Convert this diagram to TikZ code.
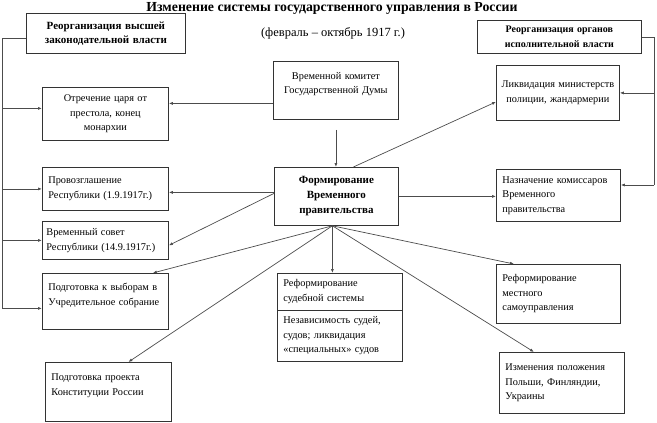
\documentclass[tikz,border=0pt]{standalone}
\usepackage{fontspec}
\setmainfont{Liberation Serif}
\usetikzlibrary{arrows.meta,shapes.multipart}

\begin{document}
\begin{tikzpicture}[x=1pt,y=-1pt,
    box/.style={draw=black!80,line width=0.8pt,anchor=north west,inner xsep=6pt,inner ysep=4pt,
      font=\fontsize{10.3}{14.5}\selectfont},
    conn/.style={draw=black!70,line width=0.7pt},
    arr/.style={conn,-{Latex[length=4pt,width=3pt]}}]
  \useasboundingbox (0,0) rectangle (657,423);

  % titles
  \node[anchor=base,font=\bfseries\fontsize{13.8}{16}\selectfont] (title) at (332,11)
    {Изменение системы государственного управления в России};
  \node[anchor=base,font=\fontsize{12.5}{14}\selectfont] (sub) at (333,36)
    {(февраль – октябрь 1917 г.)};

  % left column
  \node[box,text width=147pt,minimum height=40pt,align=center,
    font=\bfseries\fontsize{11}{14}\selectfont] (A) at (26,13) {Реорганизация высшей\\законодательной власти};
  \node[box,text width=114pt,minimum height=53pt,align=center] (B) at (42,87) {Отречение царя от\\престола, конец\\монархии};
  \node[box,text width=114pt,minimum height=43pt,align=left] (C) at (42,167) {Провозглашение\\Республики (1.9.1917г.)};
  \node[box,text width=118pt,inner xsep=4pt,minimum height=38pt,align=left] (D) at (42,221) {Временный совет\\Республики (14.9.1917г.)};
  \node[box,text width=114pt,minimum height=56pt,align=left] (E) at (42,273) {Подготовка к выборам в\\Учредительное собрание\\ \mbox{}};
  \node[box,text width=114pt,minimum height=59pt,align=left] (F) at (45,362) {Подготовка проекта\\Конституции России\\ \mbox{}};

  % middle column
  \node[box,text width=113pt,minimum height=58pt,align=center] (G) at (273,61) {Временной комитет\\Государственной Думы\\ \mbox{}};
  \node[box,text width=112pt,minimum height=58pt,align=center,
    font=\bfseries\fontsize{11}{15}\selectfont] (H) at (274,167) {Формирование\\Временного\\правительства};
  \node[box,rectangle split,rectangle split parts=2,text width=113pt,align=left,inner ysep=6pt] (M) at (277,273)
    {Реформирование\\судебной системы
     \nodepart{two}Независимость судей,\\судов; ликвидация\\«специальных» судов};

  % right column
  \node[box,text width=152pt,minimum height=33pt,align=center,
    font=\bfseries\fontsize{10}{15}\selectfont] (I) at (477,20) {Реорганизация органов\\исполнительной власти};
  \node[box,text width=119pt,inner xsep=2pt,minimum height=55pt,align=center] (J) at (496,65) {Ликвидация министерств\\полиции, жандармерии};
  \node[box,text width=112pt,minimum height=52pt,align=left] (K) at (496,169) {Назначение комиссаров\\Временного\\правительства};
  \node[box,text width=112pt,minimum height=59pt,align=left] (L) at (496,264) {Реформирование\\местного\\самоуправления};
  \node[box,text width=113pt,minimum height=61pt,align=left] (N) at (499,352) {Изменения положения\\Польши, Финляндии,\\Украины};

  % side lines
  \coordinate (lb) at (2,308);
  \coordinate (rb) at (654,185);
  \coordinate (bin) at ([yshift=5.5pt]B.west);
  \coordinate (ein) at ([yshift=-7pt]E.west);
  \draw[conn] ([yshift=-4.5pt]A.west) -| (lb);
  \draw[arr] (bin -| lb) -- (bin);
  \draw[arr] (C.west -| lb) -- (C.west);
  \draw[arr] (D.west -| lb) -- (D.west);
  \draw[arr] (ein -| lb) -- (ein);
  \draw[conn] (I.east) -| (rb);
  \draw[arr] (J.east -| rb) -- (J.east);
  \draw[arr] (rb) -- (rb -| K.east);

  % from the committee
  \coordinate (gout) at ([yshift=-13pt]G.west);
  \draw[arr] (gout) -- (gout -| B.east);
  \draw[arr,shorten <=10pt] (G.south) -- (G.south |- H.north);

  % from the government
  \coordinate (fan) at ([xshift=-4pt]H.south);
  \coordinate (hw) at ([yshift=4pt]H.west);
  \draw[arr] (hw) -- (hw -| C.east);
  \draw[arr] ([yshift=3pt]H.west) -- ([yshift=-5pt]D.east);
  \draw[arr] (fan) -- ([xshift=-16pt]E.north east);
  \draw[arr] (fan) -- ([xshift=20pt]F.north);
  \draw[arr] (fan) -- (fan |- M.north);
  \draw[arr] (fan) -- ([xshift=18pt]L.north west);
  \draw[arr] (fan) -- ([xshift=35pt]N.north west);
  \draw[arr] ([xshift=17pt]H.north) -- ([yshift=-9pt]J.west);
  \draw[arr] (H.east) -- (H.east -| K.west);
\end{tikzpicture}
\end{document}
